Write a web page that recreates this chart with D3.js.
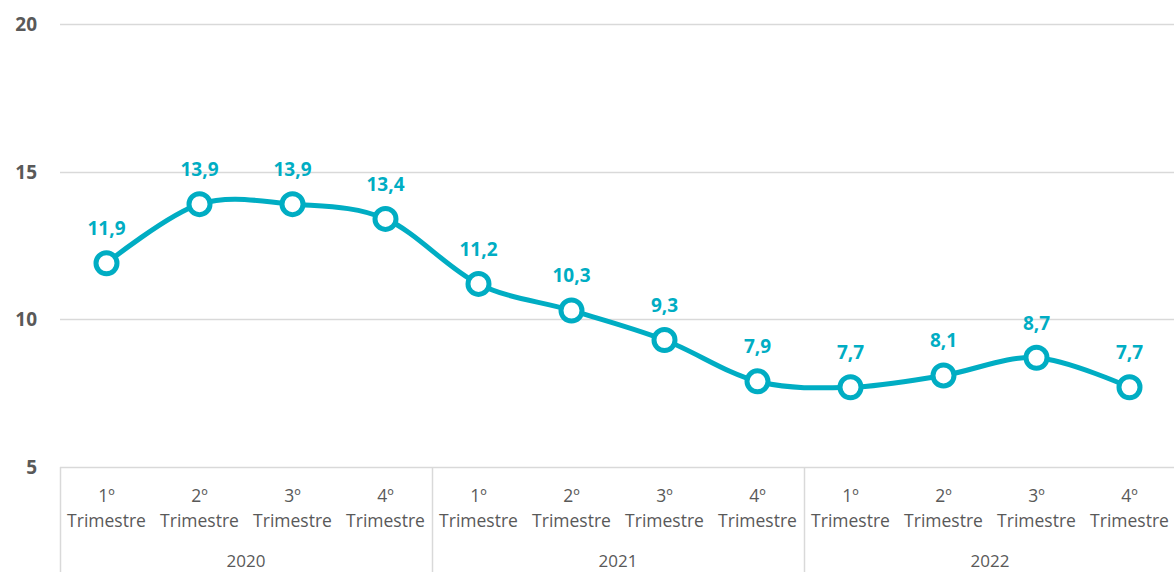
<!DOCTYPE html>
<html>
<head>
<meta charset="utf-8">
<script src="https://cdn.jsdelivr.net/npm/d3@7"></script>
<style>
  body { margin: 0; background: #fff; }
  svg { display: block; font-family: 'Open Sans', sans-serif; }
</style>
</head>
<body>
<svg id="chart" width="1174" height="572"></svg>
<script>
// data
const quarters = ['1º', '2º', '3º', '4º'];
const years = ['2020', '2021', '2022'];
const values = [11.9, 13.9, 13.9, 13.4, 11.2, 10.3, 9.3, 7.9, 7.7, 8.1, 8.7, 7.7];
const yTicks = [5, 10, 15, 20];

const teal = '#00ADC3';
const grid = '#D9D9D9';
const textGray = '#595959';

const svg = d3.select('#chart');

const plotLeft = 60, plotRight = 1176, plotTop = 24, plotBottom = 467;

const cats = [];
years.forEach(yr => quarters.forEach(q => cats.push(yr + '-' + q)));

const x = d3.scaleBand().domain(cats).range([plotLeft, plotRight]);
const y = d3.scaleLinear().domain([5, 20]).range([plotBottom, plotTop]);

// gridlines
svg.append('g')
  .selectAll('line')
  .data(yTicks)
  .enter()
  .append('line')
  .attr('x1', plotLeft)
  .attr('x2', 1174)
  .attr('y1', d => Math.round(y(d)) + 0.5)
  .attr('y2', d => Math.round(y(d)) + 0.5)
  .attr('stroke', grid)
  .attr('stroke-width', 1.5);

// y labels
svg.append('g')
  .selectAll('text')
  .data(yTicks)
  .enter()
  .append('text')
  .attr('x', 37)
  .attr('y', d => y(d) + 7)
  .attr('text-anchor', 'end')
  .style('font-size', '19px')
  .style('font-weight', 'bold')
  .style('fill', textGray)
  .text(d => d);

// multi-level category axis: separators
const sepX = years.map(yr => x(yr + '-' + quarters[0]));
svg.append('g')
  .selectAll('line')
  .data(sepX)
  .enter()
  .append('line')
  .attr('x1', d => Math.round(d) + 0.5)
  .attr('x2', d => Math.round(d) + 0.5)
  .attr('y1', plotBottom)
  .attr('y2', 572)
  .attr('stroke', grid)
  .attr('stroke-width', 1.5);

// quarter labels
const qLabels = svg.append('g')
  .selectAll('text')
  .data(cats)
  .enter()
  .append('text')
  .attr('text-anchor', 'middle')
  .style('font-size', '17.5px')
  .style('fill', textGray);
qLabels.append('tspan')
  .attr('x', d => x(d) + x.bandwidth() / 2)
  .attr('y', 502)
  .text(d => d.split('-')[1]);
qLabels.append('tspan')
  .attr('x', d => x(d) + x.bandwidth() / 2)
  .attr('y', 527)
  .text('Trimestre');

// year labels
svg.append('g')
  .selectAll('text')
  .data(years)
  .enter()
  .append('text')
  .attr('x', d => x(d + '-' + quarters[0]) + x.bandwidth() * 2)
  .attr('y', 567)
  .attr('text-anchor', 'middle')
  .style('font-size', '17px')
  .style('fill', textGray)
  .text(d => d);

// line
const pts = values.map((v, i) => ({ key: cats[i], v }));
const line = d3.line()
  .x(d => x(d.key) + x.bandwidth() / 2)
  .y(d => y(d.v))
  .curve(d3.curveCardinal.tension(0));

svg.append('path')
  .datum(pts)
  .attr('d', line)
  .attr('fill', 'none')
  .attr('stroke', teal)
  .attr('stroke-width', 5);

// markers
svg.append('g')
  .selectAll('circle')
  .data(pts)
  .enter()
  .append('circle')
  .attr('cx', d => x(d.key) + x.bandwidth() / 2)
  .attr('cy', d => y(d.v))
  .attr('r', 10.5)
  .attr('fill', '#fff')
  .attr('stroke', teal)
  .attr('stroke-width', 5);

// value labels
svg.append('g')
  .selectAll('text')
  .data(pts)
  .enter()
  .append('text')
  .attr('x', d => x(d.key) + x.bandwidth() / 2)
  .attr('y', d => y(d.v) - 28)
  .attr('text-anchor', 'middle')
  .style('font-size', '19px')
  .style('font-weight', 'bold')
  .style('fill', teal)
  .text(d => d.v.toFixed(1).replace('.', ','));
</script>
</body>
</html>
